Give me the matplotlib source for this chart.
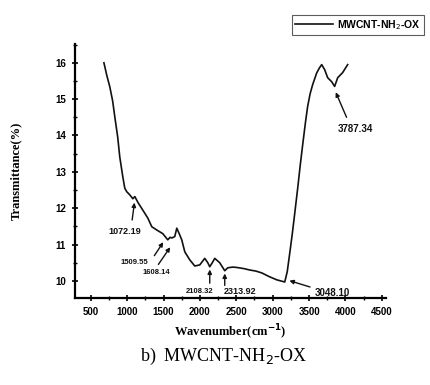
import matplotlib
matplotlib.use("Agg")
import matplotlib.pyplot as plt
from matplotlib.ticker import MultipleLocator

wavenumber = [680, 720, 761, 800, 830, 870, 898, 940, 967, 995, 1030, 1063, 1077, 1105,
              1150, 1214, 1283, 1338, 1407, 1489, 1530, 1558, 1590, 1613, 1654, 1682,
              1715, 1750, 1792, 1860, 1929, 1998, 2066, 2108, 2135, 2170, 2204, 2272,
              2341, 2382, 2450, 2506, 2600, 2685, 2770, 2850, 2950, 3056, 3110, 3166,
              3200, 3234, 3270, 3303, 3344, 3380, 3413, 3450, 3481, 3515, 3550, 3605, 3640, 3674,
              3715, 3756, 3811, 3852, 3894, 3962, 4031]
transmittance = [16.0, 15.65, 15.34, 14.95, 14.51, 13.95, 13.41, 12.86, 12.55, 12.45, 12.38, 12.3, 12.26, 12.32,
                 12.15, 11.95, 11.73, 11.49, 11.4, 11.3, 11.2, 11.13, 11.2, 11.18, 11.22, 11.45,
                 11.3, 11.13, 10.8, 10.58, 10.41, 10.44, 10.62, 10.5, 10.39, 10.5, 10.62, 10.5,
                 10.28, 10.36, 10.38, 10.37, 10.34, 10.3, 10.27, 10.22, 10.12, 10.03, 10.0, 9.97,
                 10.25, 10.75, 11.3, 11.85, 12.55, 13.2, 13.75, 14.35, 14.8, 15.15, 15.4, 15.72, 15.85, 15.95,
                 15.81, 15.59, 15.48, 15.35, 15.59, 15.73, 15.95]

peak_labels = ["1072.19", "1509.55", "1608.14", "2108.32", "2313.92", "3048.10", "3787.34"]
peak_heads = [(1105, 12.23), (1517, 11.13), (1613, 10.99), (2135, 10.39), (2341, 10.28), (3193, 10.03), (3852, 15.26)]
peak_tails = [(1063, 11.6), (1352, 10.63), (1407, 10.39), (2135, 9.86), (2341, 9.80), (3550, 9.81), (4031, 14.43)]
peak_text = [(967, 11.35), (1105, 10.52), (1407, 10.22), (1998, 9.70), (2550, 9.70), (3825, 9.67), (4141, 14.18)]
peak_sizes = [6.5, 5.5, 5.5, 5.5, 6.5, 7, 7]

fig = plt.figure(figsize=(4.3, 3.85), dpi=100)
ax = fig.add_axes([0.174, 0.226, 0.724, 0.66])
ax.plot(wavenumber, transmittance, color="#111111", lw=1.2, label="MWCNT-NH$_2$-OX")
ax.set_xlim(280, 4560)
ax.set_ylim(9.53, 16.52)
ax.spines["top"].set_visible(False)
ax.spines["right"].set_visible(False)
for s in ("left", "bottom"):
    ax.spines[s].set_linewidth(1.6)
ax.xaxis.set_major_locator(MultipleLocator(500))
ax.xaxis.set_minor_locator(MultipleLocator(250))
ax.yaxis.set_major_locator(MultipleLocator(1))
ax.yaxis.set_minor_locator(MultipleLocator(0.5))
ax.tick_params(which="major", direction="inout", length=5, width=1.2, labelsize=7, pad=4)
ax.tick_params(which="minor", direction="inout", length=3, width=1.0)
ax.set_xticks(range(500, 4501, 500))
ax.set_yticks(range(10, 17))
for lab in ax.get_xticklabels() + ax.get_yticklabels():
    lab.set_fontweight("bold")
    lab.set_family("Liberation Sans")

for lab, head, tail, tp, fs in zip(peak_labels, peak_heads, peak_tails, peak_text, peak_sizes):
    ax.annotate("", xy=head, xytext=tail,
                arrowprops=dict(arrowstyle="-|>", lw=1.0, color="#111111", mutation_scale=6))
    ax.text(tp[0], tp[1], lab, fontsize=fs, fontweight="bold", family="Liberation Sans",
            ha="center", va="center", color="#111111")

ax.set_xlabel("Wavenumber(cm$^{\\mathbf{-1}}$)", fontsize=9, fontweight="bold",
              family="Liberation Serif", labelpad=4)
ax.set_ylabel("Transmittance(%)", fontsize=9, fontweight="bold",
              family="Liberation Serif", labelpad=24)

leg = fig.legend(loc="upper right", bbox_to_anchor=(0.997, 0.975), frameon=True,
                 prop=dict(family="Liberation Sans", weight="bold", size=7.5),
                 handlelength=3.6, borderpad=0.3, fancybox=False, edgecolor="#333333",
                 handletextpad=0.4)
leg.get_frame().set_linewidth(0.8)

fig.text(0.52, 0.075, "b)  MWCNT-NH$_2$-OX", fontsize=13, family="Liberation Serif",
         ha="center", va="center")

fig.savefig("out.png", dpi=100)
